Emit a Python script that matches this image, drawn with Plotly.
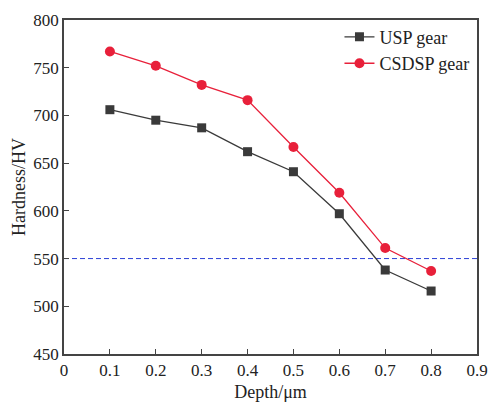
import plotly.graph_objects as go

depth = [0.1, 0.2, 0.3, 0.4, 0.5, 0.6, 0.7, 0.8]
usp = [706, 695, 687, 662, 641, 597, 538, 516]
csdsp = [767, 752, 732, 716, 667, 619, 561, 537]
ref_level = 550
x_ticks = [0, 0.1, 0.2, 0.3, 0.4, 0.5, 0.6, 0.7, 0.8, 0.9]
y_ticks = [450, 500, 550, 600, 650, 700, 750, 800]

font = "Liberation Serif, Times New Roman, serif"
fig = go.Figure()
fig.add_trace(go.Scatter(x=[0, 0.9], y=[ref_level, ref_level], mode="lines",
                         line=dict(color="#2b3fd6", width=1, dash="5px,3px"),
                         showlegend=False, hoverinfo="skip"))
fig.add_trace(go.Scatter(x=depth, y=usp, mode="lines+markers", name="USP gear",
                         line=dict(color="#3a3a3a", width=1.3),
                         marker=dict(symbol="square", size=9, color="#3a3a3a")))
fig.add_trace(go.Scatter(x=depth, y=csdsp, mode="lines+markers", name="CSDSP gear",
                         line=dict(color="#e8203a", width=1.3),
                         marker=dict(symbol="circle", size=10, color="#e8203a")))

fig.update_layout(
    width=499, height=410,
    margin=dict(l=64, r=11, t=16, b=55),
    paper_bgcolor="white", plot_bgcolor="white",
    font=dict(family=font, size=17, color="#222"),
    legend=dict(x=0.667, y=1.004, xanchor="left", yanchor="top",
                bgcolor="rgba(0,0,0,0)", font=dict(size=18), itemwidth=30,
                tracegroupgap=0),
    xaxis=dict(range=[0, 0.9], tickvals=x_ticks, ticktext=[("0" if v == 0 else f"{v:g}") for v in x_ticks],
               ticks="inside", ticklen=5, tickcolor="#444", showgrid=False, zeroline=False,
               showline=True, linecolor="#444", linewidth=1.5, mirror=True,
               title=dict(text="Depth/μm", font=dict(size=18), standoff=6)),
    yaxis=dict(range=[450, 800], tickvals=y_ticks,
               ticks="inside", ticklen=5, tickcolor="#444", showgrid=False, zeroline=False,
               showline=True, linecolor="#444", linewidth=1.5, mirror=True,
               title=dict(text="Hardness/HV", font=dict(size=18), standoff=3)),
)
fig.write_html("out.html")
